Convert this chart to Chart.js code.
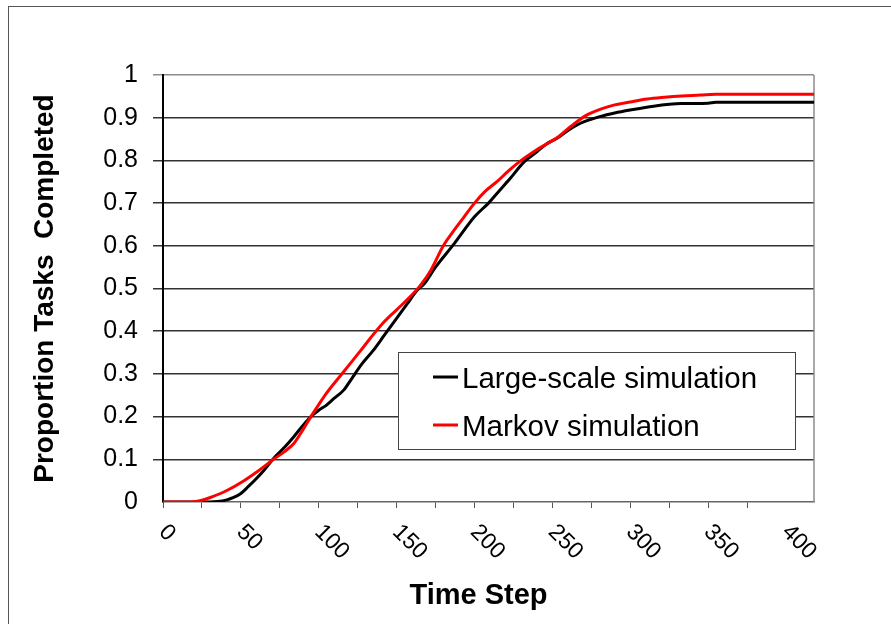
<!DOCTYPE html>
<html>
<head>
<meta charset="utf-8">
<script src="https://cdn.jsdelivr.net/npm/chart.js@4.4.0/dist/chart.umd.min.js"></script>
<style>
  html, body { margin: 0; padding: 0; overflow: hidden; background: #fff; }
  #frame { position: absolute; left: 8px; top: 6px; width: 1000px; height: 1000px; border: 1px solid #555; }
  #chart { position: absolute; left: 0; top: 0; }
</style>
</head>
<body>
<div id="frame"></div>
<canvas id="chart" width="891" height="624"></canvas>
<script>
/*********************************
 DATA
*********************************/
const seriesNames = ["Large-scale simulation", "Markov simulation"];
const seriesColors = ["#000000", "#ff0000"];

const largeT = [0, 10, 20, 30, 35, 41, 45, 50, 55, 60, 65, 71, 78, 84, 90, 95, 100, 105, 110, 116, 121, 127, 135, 142, 150, 157, 163, 168, 175, 187, 200, 209, 215, 223, 232, 240, 246, 253, 260, 268, 281, 290, 300, 315, 333, 350, 355, 418];
const largeV = [0, 0, 0, 0, 0.001, 0.005, 0.01, 0.02, 0.037, 0.055, 0.075, 0.102, 0.128, 0.153, 0.18, 0.2, 0.215, 0.227, 0.243, 0.262, 0.288, 0.32, 0.355, 0.39, 0.43, 0.465, 0.495, 0.512, 0.55, 0.605, 0.668, 0.7, 0.725, 0.758, 0.797, 0.82, 0.838, 0.852, 0.87, 0.887, 0.903, 0.911, 0.918, 0.927, 0.933, 0.934, 0.936, 0.936];

const markovT = [0, 10, 18, 25, 30, 41, 52, 62, 71, 78, 84, 90, 95, 100, 105, 116, 127, 133, 141, 150, 158, 165, 172, 180, 186, 193, 200, 207, 215, 222, 230, 240, 246, 253, 262, 272, 281, 290, 300, 311, 322, 333, 345, 355, 418];
const markovV = [0, 0, 0, 0.004, 0.01, 0.027, 0.05, 0.075, 0.1, 0.118, 0.137, 0.17, 0.2, 0.228, 0.255, 0.305, 0.355, 0.383, 0.418, 0.45, 0.478, 0.506, 0.543, 0.6, 0.632, 0.666, 0.7, 0.728, 0.752, 0.776, 0.8, 0.825, 0.838, 0.853, 0.88, 0.906, 0.92, 0.93, 0.937, 0.944, 0.948, 0.951, 0.953, 0.955, 0.955];

const xLabels = [0, 50, 100, 150, 200, 250, 300, 350, 400];
const X_MAX = 418;
const X_TITLE = "Time Step";
const Y_TITLE = "Proportion Tasks  Completed";

/*********************************
 CONFIG
*********************************/
const FONT = "'Liberation Sans', Arial, sans-serif";

function toPoints(ts, vs) {
  return ts.map((t, i) => ({ x: t, y: vs[i] }));
}

/*********************************
 PLUGINS
*********************************/
// right border of the plot area
const plotFrame = {
  id: "plotFrame",
  beforeDatasetsDraw(chart) {
    const { ctx, chartArea } = chart;
    ctx.save();
    ctx.strokeStyle = "#8c8c8c";
    ctx.lineWidth = 1.5;
    ctx.beginPath();
    ctx.moveTo(chartArea.right, chartArea.top);
    ctx.lineTo(chartArea.right, chartArea.bottom);
    ctx.stroke();
    ctx.restore();
  }
};

// x tick labels turned 45 degrees clockwise, plus the x title
const slantLabels = {
  id: "slantLabels",
  afterDraw(chart) {
    const { ctx, chartArea } = chart;
    const xs = chart.scales.x;
    ctx.save();
    ctx.font = "23px " + FONT;
    ctx.fillStyle = "#000";
    ctx.textAlign = "left";
    ctx.textBaseline = "alphabetic";
    xLabels.forEach(v => {
      const px = xs.getPixelForValue(v);
      ctx.save();
      ctx.translate(px - 5, xs.top + 31);
      ctx.rotate(Math.PI / 4);
      ctx.fillText(String(v), 0, 0);
      ctx.restore();
    });
    ctx.font = "bold 29px " + FONT;
    ctx.textAlign = "center";
    ctx.fillText(X_TITLE, (chartArea.left + chartArea.right) / 2 - 10, xs.bottom - 20);
    ctx.restore();
  }
};

// boxed legend inside the plot
const boxLegend = {
  id: "boxLegend",
  afterDraw(chart) {
    const { ctx } = chart;
    ctx.save();
    ctx.fillStyle = "#fff";
    ctx.fillRect(398, 352, 397, 97);
    ctx.strokeStyle = "#444";
    ctx.lineWidth = 1;
    ctx.strokeRect(398.5, 352.5, 397, 97);
    ctx.font = "29.5px " + FONT;
    ctx.textAlign = "left";
    ctx.textBaseline = "alphabetic";
    seriesNames.forEach((name, i) => {
      const y = 377 + i * 48;
      ctx.strokeStyle = seriesColors[i];
      ctx.lineWidth = 3;
      ctx.beginPath();
      ctx.moveTo(433, y);
      ctx.lineTo(458, y);
      ctx.stroke();
      ctx.fillStyle = "#000";
      ctx.fillText(name, 462, y + 11);
    });
    ctx.restore();
  }
};

/*********************************
 CHART
*********************************/
new Chart(document.getElementById("chart"), {
  type: "line",
  data: {
    datasets: [
      {
        label: seriesNames[0],
        data: toPoints(largeT, largeV),
        borderColor: seriesColors[0],
        order: 1
      },
      {
        label: seriesNames[1],
        data: toPoints(markovT, markovV),
        borderColor: seriesColors[1],
        order: 0
      }
    ]
  },
  options: {
    responsive: false,
    animation: false,
    layout: { padding: { left: 0, top: 75, right: 77, bottom: 0 } },
    elements: {
      point: { radius: 0 },
      line: { borderWidth: 3, cubicInterpolationMode: "monotone", fill: false }
    },
    plugins: { legend: { display: false }, tooltip: { enabled: false } },
    scales: {
      x: {
        type: "linear",
        min: 0,
        max: X_MAX,
        afterFit: s => { s.height = 122; },
        afterBuildTicks: s => { s.ticks = s.ticks.filter(t => t.value % 25 === 0); },
        ticks: { stepSize: 25, callback: () => "" },
        grid: { drawOnChartArea: false, tickLength: 6, color: "#555", lineWidth: 1 },
        border: { color: "#666", width: 1.5, dash: [3, 2] }
      },
      y: {
        min: 0,
        max: 1,
        afterFit: s => { s.width = 163; },
        ticks: {
          stepSize: 0.1,
          color: "#000",
          padding: 15,
          font: { family: FONT, size: 25 },
          callback: v => String(Math.round(v * 10) / 10)
        },
        grid: {
          tickLength: 10,
          lineWidth: 1.5,
          color: c => c.tick && c.tick.value === 0 ? "rgba(0,0,0,0)" : (c.tick && c.tick.value === 1 ? "#8c8c8c" : "#333")
        },
        border: { color: "#000", width: 2 },
        title: {
          display: true,
          text: Y_TITLE,
          color: "#000",
          font: { family: FONT, size: 28, weight: "bold" },
          padding: { top: 28, bottom: 0 }
        }
      }
    }
  },
  plugins: [plotFrame, slantLabels, boxLegend]
});
</script>
</body>
</html>
